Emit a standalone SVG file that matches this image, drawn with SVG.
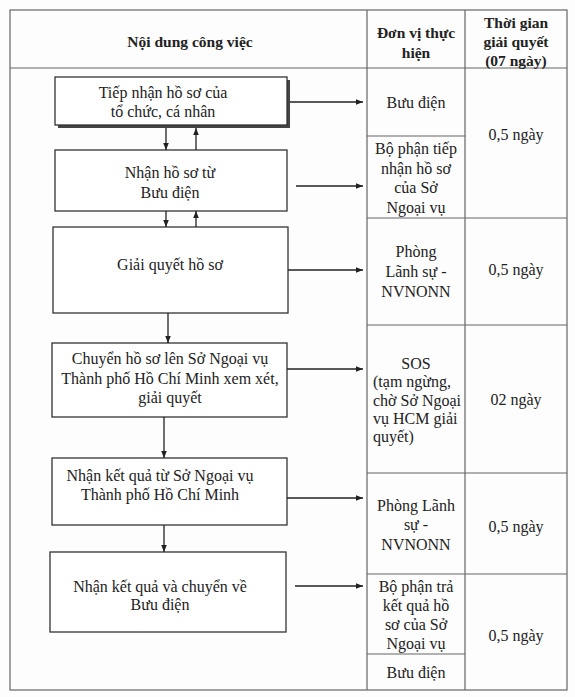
<svg xmlns="http://www.w3.org/2000/svg" width="575" height="697" viewBox="0 0 575 697">
<style>
text{font-family:"Liberation Serif","Times New Roman",serif;font-size:16px;fill:#222;}
.h{font-weight:bold;font-size:15.5px;}
.c{text-anchor:middle;}
.grid{stroke:#666;stroke-width:1.2;fill:none;}
.box{fill:#fff;stroke:#333;stroke-width:1.3;}
.con{stroke:#222;stroke-width:1.3;fill:none;marker-end:url(#ah);}
</style>
<defs>
<marker id="ah" viewBox="0 0 10 10" refX="10" refY="5" markerWidth="7" markerHeight="7" markerUnits="userSpaceOnUse" orient="auto">
<path d="M0,1 L10,5 L0,9 Z" fill="#222"/>
</marker>
</defs>
<rect width="575" height="697" fill="#fdfdfd"/>
<g id="table">
<rect class="grid" x="10" y="10" width="557" height="680"/>
<line class="grid" x1="10" y1="68" x2="567" y2="68"/>
<line class="grid" x1="367" y1="10" x2="367" y2="690"/>
<line class="grid" x1="465" y1="10" x2="465" y2="690"/>
<line class="grid" x1="367" y1="136" x2="465" y2="136"/>
<line class="grid" x1="367" y1="218" x2="567" y2="218"/>
<line class="grid" x1="367" y1="325" x2="567" y2="325"/>
<line class="grid" x1="367" y1="473" x2="567" y2="473"/>
<line class="grid" x1="367" y1="574" x2="567" y2="574"/>
<line class="grid" x1="367" y1="654" x2="465" y2="654"/>
<text class="h c" x="190" y="47">Nội dung công việc</text>
<text class="h c" x="416" y="38">Đơn vị thực</text>
<text class="h c" x="416" y="58">hiện</text>
<text class="h c" x="516" y="28">Thời gian</text>
<text class="h c" x="516" y="47">giải quyết</text>
<text class="h c" x="516" y="66">(07 ngày)</text>
<text class="c" x="416" y="108">Bưu điện</text>
<text class="c" x="416" y="154">Bộ phận tiếp</text>
<text class="c" x="416" y="174">nhận hồ sơ</text>
<text class="c" x="416" y="193">của Sở</text>
<text class="c" x="416" y="213">Ngoại vụ</text>
<text class="c" x="416" y="257">Phòng</text>
<text class="c" x="416" y="277">Lãnh sự -</text>
<text class="c" x="416" y="297">NVNONN</text>
<text class="c" x="416" y="369">SOS</text>
<text x="373" y="387">(tạm ngừng,</text>
<text x="373" y="406">chờ Sở Ngoại</text>
<text x="373" y="424">vụ HCM giải</text>
<text x="373" y="442">quyết)</text>
<text class="c" x="416" y="511">Phòng Lãnh</text>
<text class="c" x="416" y="530">sự -</text>
<text class="c" x="416" y="550">NVNONN</text>
<text class="c" x="416" y="592">Bộ phận trả</text>
<text class="c" x="416" y="611">kết quả hồ</text>
<text class="c" x="416" y="630">sơ của Sở</text>
<text class="c" x="416" y="649">Ngoại vụ</text>
<text class="c" x="416" y="678">Bưu điện</text>
<text class="c" x="516" y="140">0,5 ngày</text>
<text class="c" x="516" y="275">0,5 ngày</text>
<text class="c" x="516" y="405">02 ngày</text>
<text class="c" x="516" y="532">0,5 ngày</text>
<text class="c" x="516" y="641">0,5 ngày</text>
</g>
<g id="n1">
<rect x="58" y="80" width="232" height="48" fill="#444"/>
<rect class="box" x="55" y="77" width="232" height="48"/>
<text class="c" x="163" y="98">Tiếp nhận hồ sơ của</text>
<text class="c" x="163" y="117">tổ chức, cá nhân</text>
</g>
<g id="n2">
<rect class="box" x="55" y="150" width="232" height="61"/>
<text class="c" x="170" y="178">Nhận hồ sơ từ</text>
<text class="c" x="170" y="198">Bưu điện</text>
</g>
<g id="n3">
<rect class="box" x="53" y="227" width="235" height="86"/>
<text class="c" x="170" y="270">Giải quyết hồ sơ</text>
</g>
<g id="n4">
<rect class="box" x="52" y="343" width="235" height="74"/>
<text class="c" x="170" y="364">Chuyển hồ sơ lên Sở Ngoại vụ</text>
<text class="c" x="170" y="384">Thành phố Hồ Chí Minh xem xét,</text>
<text class="c" x="170" y="403">giải quyết</text>
</g>
<g id="n5">
<rect class="box" x="52" y="458" width="235" height="67"/>
<text class="c" x="160" y="481">Nhận kết quả từ Sở Ngoại vụ</text>
<text class="c" x="160" y="500">Thành phố Hồ Chí Minh</text>
</g>
<g id="n6">
<rect class="box" x="50" y="552" width="236" height="80"/>
<text class="c" x="160" y="592">Nhận kết quả và chuyển về</text>
<text class="c" x="160" y="610">Bưu điện</text>
</g>
<g id="connectors">
<line class="con" x1="290" y1="102" x2="363" y2="102"/>
<line class="con" x1="296" y1="186" x2="363" y2="186"/>
<line class="con" x1="288" y1="270" x2="363" y2="270"/>
<line class="con" x1="287" y1="369" x2="363" y2="369"/>
<line class="con" x1="287" y1="498" x2="363" y2="498"/>
<line class="con" x1="295" y1="586" x2="363" y2="586"/>
<line class="con" x1="166" y1="128" x2="166" y2="150"/>
<line class="con" x1="196" y1="150" x2="196" y2="128"/>
<line class="con" x1="166" y1="211" x2="166" y2="227"/>
<line class="con" x1="196" y1="227" x2="196" y2="211"/>
<line class="con" x1="168" y1="313" x2="168" y2="343"/>
<line class="con" x1="164" y1="417" x2="164" y2="458"/>
<line class="con" x1="164" y1="525" x2="164" y2="552"/>
</g>
</svg>
